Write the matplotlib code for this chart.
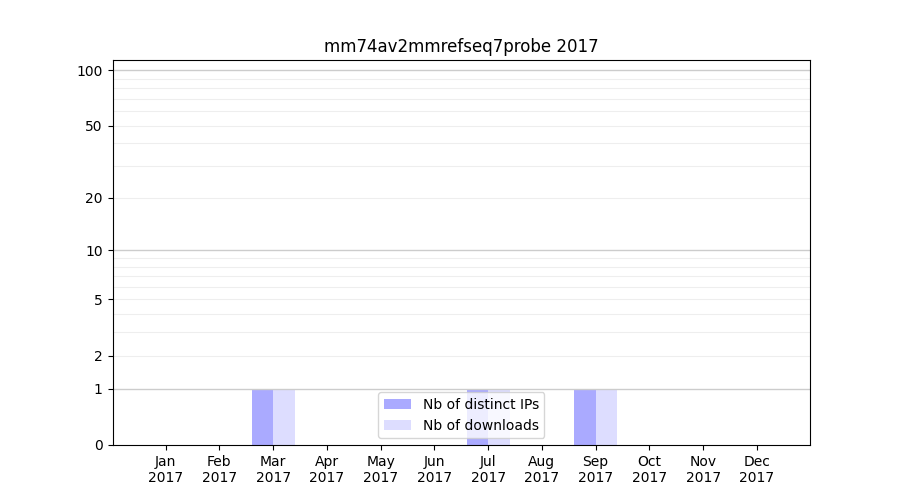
import numpy as np
import matplotlib
matplotlib.use("Agg")
import matplotlib.pyplot as plt
from matplotlib.ticker import FixedLocator, FixedFormatter

months = ["Jan", "Feb", "Mar", "Apr", "May", "Jun", "Jul", "Aug", "Sep", "Oct", "Nov", "Dec"]
year = "2017"
distinct_ips = [0, 0, 1, 0, 0, 0, 1, 0, 1, 0, 0, 0]
downloads = [0, 0, 1, 0, 0, 0, 1, 0, 1, 0, 0, 0]
major_ticks = [0, 1, 2, 5, 10, 20, 50, 100]
major_grid = [1, 10, 100]
minor_grid = [2, 3, 4, 5, 6, 7, 8, 9, 20, 30, 40, 50, 60, 70, 80, 90]

fig, ax = plt.subplots(figsize=(9, 5), dpi=100)
x = np.arange(len(months))
w = 0.4
ax.bar(x - w / 2, distinct_ips, width=w, color="#aaaaff", label="Nb of distinct IPs")
ax.bar(x + w / 2, downloads, width=w, color="#ddddff", label="Nb of downloads")

ax.set_yscale("function", functions=(lambda v: np.log10(1 + np.clip(v, 0, None)),
                                     lambda v: 10 ** v - 1))
ax.set_ylim(0, 113.5)
ax.yaxis.set_major_locator(FixedLocator(major_ticks))
ax.yaxis.set_major_formatter(FixedFormatter([str(t) for t in major_ticks]))
ax.yaxis.set_minor_locator(FixedLocator([]))
for g in major_grid:
    ax.axhline(g, color="#cccccc", lw=1, zorder=1.5)
for g in minor_grid:
    ax.axhline(g, color="#eeeeee", lw=0.8, zorder=1.4)

ax.set_xticks(x)
ax.set_xticklabels([f"{m}\n{year}" for m in months])
ax.set_title(f"mm74av2mmrefseq7probe {year}")
ax.legend(loc="lower center")
fig.savefig("out.png")
